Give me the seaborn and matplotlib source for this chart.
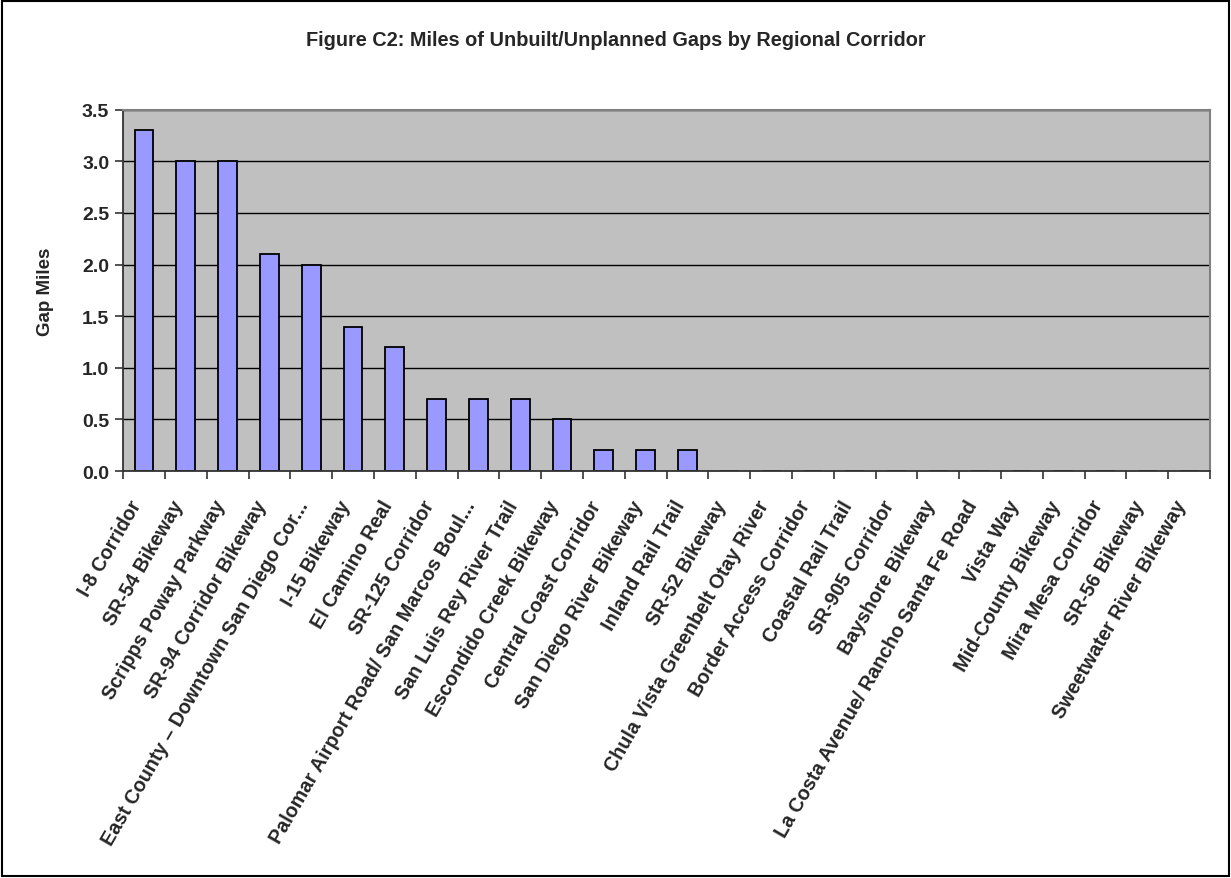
import numpy as np
import pandas as pd
import seaborn as sns
import matplotlib.pyplot as plt
from matplotlib.patches import Rectangle
from matplotlib.transforms import ScaledTranslation

# data
corridors = ['I-8 Corridor', 'SR-54 Bikeway', 'Scripps Poway Parkway', 'SR-94 Corridor Bikeway',
             'East County \u2013 Downtown San Diego Cor...', 'I-15 Bikeway', 'El Camino Real',
             'SR-125 Corridor', 'Palomar Airport Road/ San Marcos Boul...', 'San Luis Rey River Trail',
             'Escondido Creek Bikeway', 'Central Coast Corridor', 'San Diego River Bikeway',
             'Inland Rail Trail', 'SR-52 Bikeway', 'Chula Vista Greenbelt Otay River',
             'Border Access Corridor', 'Coastal Rail Trail', 'SR-905 Corridor', 'Bayshore Bikeway',
             'La Costa Avenue/ Rancho Santa Fe Road', 'Vista Way', 'Mid-County Bikeway',
             'Mira Mesa Corridor', 'SR-56 Bikeway', 'Sweetwater River Bikeway']
gap_miles = [3.3, 3.0, 3.0, 2.1, 2.0, 1.4, 1.2, 0.7, 0.7, 0.7, 0.5, 0.2, 0.2, 0.2,
             0, 0, 0, 0, 0, 0, 0, 0, 0, 0, 0, 0]
y_ticks = [0.0, 0.5, 1.0, 1.5, 2.0, 2.5, 3.0, 3.5]

df = pd.DataFrame({'corridor': corridors, 'miles': gap_miles})

sns.set_style('white')
plt.rcParams['font.family'] = ['Liberation Sans', 'DejaVu Sans']

fig = plt.figure(figsize=(12.31, 8.79), dpi=100)
ax = fig.add_axes([0.1, 0.463, 0.883, 0.411])
ax.set_facecolor('#C0C0C0')

sns.barplot(data=df, x='corridor', y='miles', color='#9999FF', edgecolor='black',
            linewidth=1.3, width=0.45, saturation=1, ax=ax)

n = len(corridors)
ax.set_xlim(-0.5, n - 0.5)
ax.set_ylim(0, 3.5)
ax.set_yticks(y_ticks)
ax.set_yticklabels([f'{v:.1f}' for v in y_ticks], fontsize=14, fontweight='bold')
ax.yaxis.grid(True, color='black', linewidth=1)
ax.set_axisbelow(True)

ax.set_xticks(range(n))
ax.set_xticklabels(corridors, rotation=60, ha='right', va='center', rotation_mode='anchor',
                   fontsize=14.2, fontweight='bold')
ax.set_xticks(np.arange(-0.5, n, 1), minor=True)
ax.tick_params(axis='x', which='major', length=0, pad=19)
ax.tick_params(axis='x', which='minor', length=6, width=1.2, color='#333333', direction='out', bottom=True)
ax.tick_params(axis='y', length=6, width=1.2, color='#333333', direction='out', left=True, pad=4)

# nudge the slanted labels a little down-left, like the original
shift = ScaledTranslation(-0.07, -0.04, fig.dpi_scale_trans)
for lbl in ax.get_xticklabels():
    lbl.set_transform(lbl.get_transform() + shift)

ax.set_xlabel('')
ax.set_ylabel('Gap Miles', fontsize=13.5, fontweight='bold')
ax.yaxis.set_label_coords(-0.064, 0.5)

for side in ['top', 'right']:
    ax.spines[side].set_color('#808080')
    ax.spines[side].set_linewidth(1.5)
for side in ['left', 'bottom']:
    ax.spines[side].set_color('#333333')
    ax.spines[side].set_linewidth(1.3)

fig.text(0.5, 0.954, 'Figure C2: Miles of Unbuilt/Unplanned Gaps by Regional Corridor',
         ha='center', va='center', fontsize=14.3, fontweight='bold')

fig.patches.append(Rectangle((0.002, 0.002), 0.996, 0.996, transform=fig.transFigure,
                             fill=False, edgecolor='black', linewidth=1.5))

fig.savefig('out.png', dpi=100)
